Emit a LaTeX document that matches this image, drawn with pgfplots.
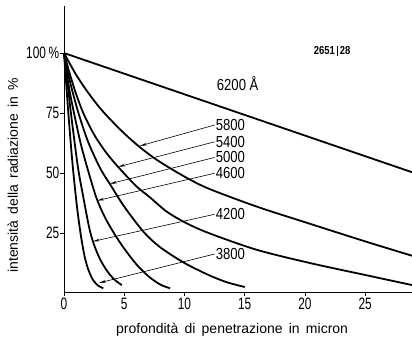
\documentclass[border=0pt]{standalone}
\usepackage{pgfplots}
\pgfplotsset{compat=1.18}
\usepackage{fontspec}
\setmainfont{Liberation Sans}
\newfontfamily\tickfont[FakeStretch=0.72]{Liberation Sans}
\newfontfamily\numfont[FakeStretch=0.82]{Liberation Sans}
\usetikzlibrary{arrows.meta}

\pgfplotstableread{
x y
0 100
5 91.4
10 82.8
15 74.2
20 65.6
25 57
28.9 50.3
}\tA
\pgfplotstableread{
x y
0 100
1 91
2 83.5
3 77
4 71.5
5 66.5
6 62
7 58
8 54.5
10 48.5
12 43.5
16 36
20 29.5
25 21.5
28.9 15.5
}\tB
\pgfplotstableread{
x y
0 100
0.5 91
1 83
1.6 75
2.5 66
3.5 58.5
4.5 52.5
6 44.5
7.1 40
8.5 34
10 29.5
12 25
16 18
20.4 12.5
25 7.5
28.9 3.3
}\tC
\pgfplotstableread{
x y
0 100
0.5 88
1.2 75
2 63
3 52
3.8 45.5
5 36
6.6 25.5
8 19
10 12.5
12 7.5
13.5 4.5
15 2.5
}\tD
\pgfplotstableread{
x y
0 100
0.4 86
0.83 75
1.4 62
2 51
2.7 39.5
3.4 31.5
4.2 24.5
5 18.5
6 12
7 7
8 3.5
8.8 2
}\tE
\pgfplotstableread{
x y
0 100
0.3 87
0.55 76
0.9 62
1.2 51
1.6 40
2.1 27
2.5 20
3 14
3.6 9
4.2 5.5
4.8 3.3
}\tF
\pgfplotstableread{
x y
0 100
0.2 86
0.36 75
0.6 60
0.8 49
1.1 35
1.4 24
1.7 15.5
2 10
2.4 5.5
2.85 3
3.26 2
}\tG

\begin{document}
\begin{tikzpicture}
\begin{axis}[
  scale only axis, width=348pt, height=287pt,
  xmin=0, xmax=28.88, ymin=0, ymax=119.6,
  axis x line=bottom, axis y line=left,
  axis line style={-, line width=1pt},
  xtick={0,5,10,15,20,25},
  ytick={25,50,75,100},
  yticklabels={25,50,75,100\,\%},
  tick align=outside, major tick length=3.5pt,
  tick style={black, line width=0.9pt},
  /pgf/number format/assume math mode=true,
  ticklabel style={font=\tickfont\fontsize{16.5}{16.5}\selectfont, inner sep=1pt},
  xlabel={profondità\, di\, penetrazione\, in\, micron},
  ylabel={intensità\, della\, radiazione\, in\, \%},
  label style={font=\fontsize{14}{14}\selectfont},
  xlabel style={at={(axis description cs:0.483,0)}, anchor=center, yshift=-37pt},
  ylabel style={at={(axis description cs:-0.147,0.41)}, anchor=center},
  clip=false,
]
\addplot[black, line width=1.8pt, smooth, tension=0.5] table {\tA};
\addplot[black, line width=1.8pt, smooth, tension=0.5] table {\tB};
\addplot[black, line width=1.8pt, smooth, tension=0.5] table {\tC};
\addplot[black, line width=1.8pt, smooth, tension=0.5] table {\tD};
\addplot[black, line width=1.8pt, smooth, tension=0.5] table {\tE};
\addplot[black, line width=1.8pt, smooth, tension=0.5] table {\tF};
\addplot[black, line width=1.8pt, smooth, tension=0.5] table {\tG};

\coordinate (bl) at (rel axis cs:0,0);
\coordinate (tr) at (rel axis cs:1,1);

\node[anchor=west, inner sep=0pt, font=\numfont\fontsize{16}{16}\selectfont] at (axis cs:12.67,87.4) {6200 Å};
\node[anchor=center, inner sep=0pt, font=\numfont\bfseries\fontsize{11.5}{11.5}\selectfont] at (axis cs:22.25,101) {2651\,{\vrule width 1.2pt height 9pt depth 1pt}\,28};

\begin{scope}[every node/.style={anchor=west, inner sep=1pt, font=\numfont\fontsize{16}{16}\selectfont},
  arr/.style={line width=0.6pt, -{Stealth[length=7pt, width=2.6pt]}}]
\node (a) at (axis cs:12.5,70) {5800};
\draw[arr] (a.west) -- (axis cs:6.3,61.3);
\node (b) at (axis cs:12.5,63.0) {5400};
\draw[arr] (b.west) -- (axis cs:4.5,52.6);
\node (c) at (axis cs:12.5,56.5) {5000};
\draw[arr] (c.west) -- (axis cs:3.8,45.5);
\node (d) at (axis cs:12.5,49.9) {4600};
\draw[arr] (d.west) -- (axis cs:2.75,38.5);
\node (e) at (axis cs:12.5,32.8) {4200};
\draw[arr] (e.west) -- (axis cs:2.4,21.5);
\node (f) at (axis cs:12.5,16.25) {3800};
\draw[arr] (f.west) -- (axis cs:2.9,4.2);
\end{scope}
\end{axis}
\pgfresetboundingbox
\path ([xshift=-64pt,yshift=-49pt]bl) rectangle ([yshift=6pt]tr);
\end{tikzpicture}
\end{document}
